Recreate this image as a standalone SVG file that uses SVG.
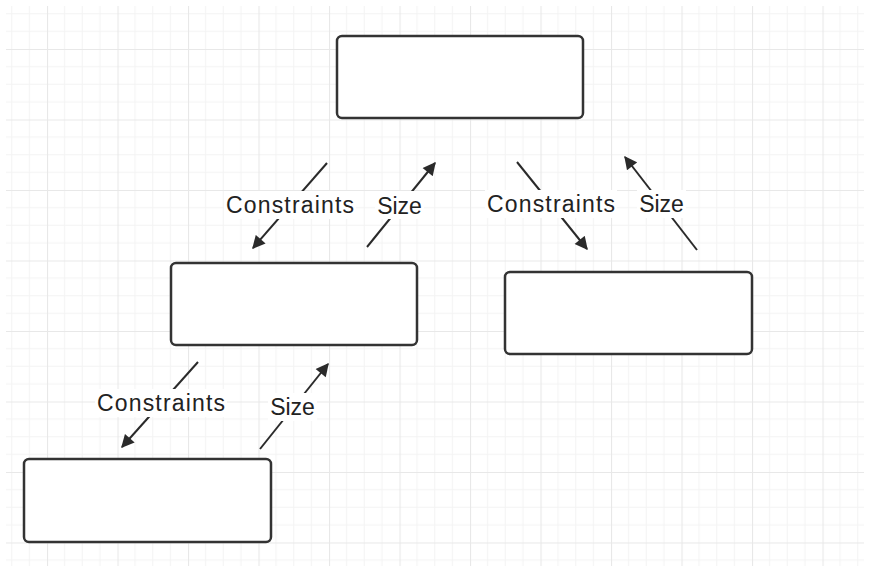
<svg xmlns="http://www.w3.org/2000/svg" width="870" height="572" viewBox="0 0 870 572">
<defs>
<pattern id="grid" patternUnits="userSpaceOnUse" x="47" y="49" width="70.5" height="70.5">
<path d="M17.6 0V70.5M35.25 0V70.5M52.9 0V70.5M0 17.6H70.5M0 35.25H70.5M0 52.9H70.5" stroke="#f3f3f3" stroke-width="1" fill="none"/>
<path d="M0.5 0V70.5M0 0.5H70.5" stroke="#e8e8e8" stroke-width="1.2" fill="none"/>
</pattern>
<marker id="ah" viewBox="0 0 10 10" refX="9" refY="5" markerWidth="7" markerHeight="6.5" orient="auto" markerUnits="strokeWidth">
<path d="M0 0L10 5L0 10Z" fill="#2a2a2a"/>
</marker>
</defs>
<style>
.node{fill:#fff;stroke:#333;stroke-width:2.5}
.edge{stroke:#2a2a2a;stroke-width:2;fill:none}
.lbg{fill:#fff}
.lbl{font-family:"Liberation Sans",Arial,sans-serif;font-size:23px;fill:#222;text-anchor:middle}
</style>
<rect width="870" height="572" fill="#fff"/>
<rect x="6" y="6" width="858" height="560" fill="url(#grid)"/>
<g id="connectors">
<line class="edge" x1="327" y1="163" x2="253" y2="248" marker-end="url(#ah)"/>
<line class="edge" x1="367" y1="247" x2="435" y2="163" marker-end="url(#ah)"/>
<line class="edge" x1="517" y1="162" x2="587" y2="249" marker-end="url(#ah)"/>
<line class="edge" x1="697" y1="250" x2="625" y2="157" marker-end="url(#ah)"/>
<line class="edge" x1="198" y1="362" x2="122" y2="447" marker-end="url(#ah)"/>
<line class="edge" x1="260" y1="449" x2="328" y2="364" marker-end="url(#ah)"/>
<rect class="lbg" x="224" y="191" width="132" height="28"/>
<rect class="lbg" x="375" y="191" width="49" height="28"/>
<rect class="lbg" x="485" y="190" width="132" height="28"/>
<rect class="lbg" x="637" y="190" width="49" height="28"/>
<rect class="lbg" x="95" y="389" width="132" height="28"/>
<rect class="lbg" x="268" y="393" width="49" height="28"/>
<text class="lbl" x="290" y="213" textLength="128" lengthAdjust="spacing">Constraints</text>
<text class="lbl" x="399.5" y="214">Size</text>
<text class="lbl" x="551" y="212" textLength="128" lengthAdjust="spacing">Constraints</text>
<text class="lbl" x="661.5" y="212">Size</text>
<text class="lbl" x="161" y="411" textLength="128" lengthAdjust="spacing">Constraints</text>
<text class="lbl" x="292.5" y="415">Size</text>
</g>
<g id="node-top"><rect class="node" x="337" y="36" width="246" height="82" rx="5"/></g>
<g id="node-mid-left"><rect class="node" x="171" y="263" width="246" height="82" rx="5"/></g>
<g id="node-right"><rect class="node" x="505" y="272" width="247" height="82" rx="5"/></g>
<g id="node-bottom-left"><rect class="node" x="24" y="459" width="247" height="83" rx="5"/></g>
</svg>
